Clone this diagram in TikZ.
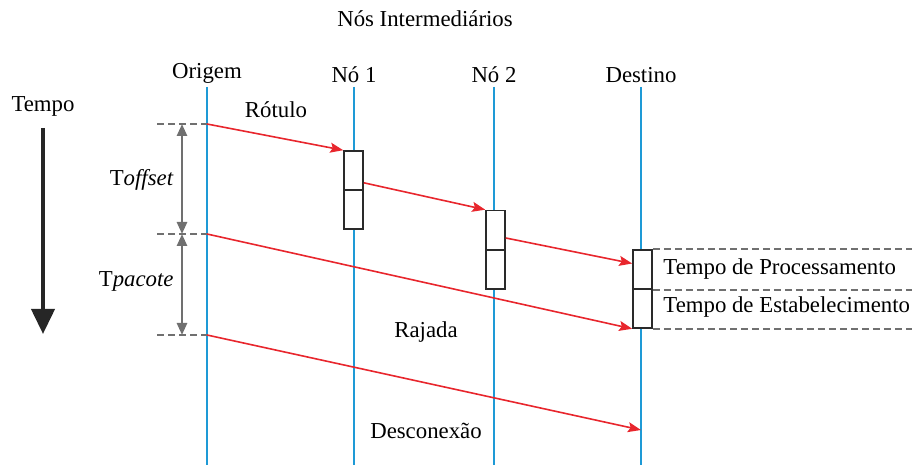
\documentclass[tikz,border=0pt]{standalone}
\usepackage{fontspec}
\setmainfont{Liberation Serif}
\usetikzlibrary{arrows.meta,positioning,calc}
\definecolor{lifeblue}{HTML}{1E9AD6}
\definecolor{msgred}  {HTML}{E8262D}
\definecolor{dimgray} {HTML}{707070}
\definecolor{boxink}  {HTML}{2A2A2A}
\tikzset{
  lifeline/.style ={draw=lifeblue, line width=1pt},
  msgarr/.style   ={-{Stealth[length=6.5pt,width=5pt,inset=1.2pt]}, line width=0.8pt, color=msgred},
  dimarr/.style   ={{Triangle[length=6pt,width=5pt]}-{Triangle[length=6pt,width=5pt]},
                    line width=1.3pt, color=dimgray},
  timearr/.style  ={-{Triangle[length=12.5pt,width=11.5pt]}, line width=2pt, color=black!85},
  guide/.style    ={dash pattern=on 3.5pt off 2pt, line width=0.9pt, color=dimgray},
  procbox/.style  ={draw=boxink, fill=white, line width=0.8pt,
                    minimum width=9.5pt, minimum height=19.5pt, inner sep=0pt},
  lbl/.style      ={inner sep=0pt},
}

\begin{document}
\begin{tikzpicture}[x=0.5pt,y=-0.5pt,font=\fontsize{11.4}{13.5}\selectfont]
  \useasboundingbox (0,0) rectangle (912,465);

  % headings
  \node[lbl,anchor=base] (inter) at (425,27) {Nós Intermediários};
  \node[lbl,anchor=base] (orig) at (207,79) {Origem};
  \node[lbl,anchor=base] (no1)  at (354,83) {Nó 1};
  \node[lbl,anchor=base] (no2)  at (494,83) {Nó 2};
  \node[lbl,anchor=base] (dest) at (641,83) {Destino};

  % lifelines
  \foreach \n/\x in {orig/207, no1/354, no2/494, dest/641} {
    \coordinate (\n-t) at (\x,87);
    \coordinate (\n-b) at (\x,465);
    \draw[lifeline] (\n-t) -- (\n-b);
  }

  % time axis
  \node[lbl,anchor=base] (tempo) at (43,112) {Tempo};
  \coordinate (tempo-t) at (43,128);
  \coordinate (tempo-b) at (43,334);
  \draw[timearr] (tempo-t) -- (tempo-b);

  % instants at the origin
  \coordinate (t0) at (207,124);
  \coordinate (t1) at (207,234);
  \coordinate (t2) at (207,335);
  \foreach \t in {t0,t1,t2}
    \draw[guide] ($(\t)+(-50,0)$) -- (\t);
  \draw[dimarr] ($(t0)+(-25,0)$) -- ($(t1)+(-25,0)$);
  \draw[dimarr] ($(t1)+(-25,0)$) -- ($(t2)+(-25,0)$);
  \node[lbl,anchor=base east] (toff) at (174,186) {T\textit{offset}};
  \node[lbl,anchor=base east] (tpac) at (174,287) {T\textit{pacote}};

  % processing boxes
  \node[procbox] (b1top) at (353.5,170.5) {};
  \node[procbox] (b1bot) at (353.5,209.5) {};
  \node[procbox] (b2top) at (495.5,230)   {};
  \node[procbox] (b2bot) at (495.5,269.5) {};
  \node[procbox] (dtop)  at (642.5,269.5) {};
  \node[procbox] (dbot)  at (642.5,308.5) {};

  % messages
  \draw[msgarr] (t0) -- (b1top.north west);
  \draw[msgarr] ([yshift=4pt]b1top.south east) -- (b2top.north west);
  \draw[msgarr] ([yshift=-4pt]b2top.east) -- ([yshift=3pt]dtop.west);
  \draw[msgarr] (t1) -- (dbot.south west);
  \coordinate (desc-end) at (641,430);
  \draw[msgarr] (t2) -- (desc-end);
  \node[lbl,anchor=base] (rot) at (276,118) {Rótulo};
  \node[lbl,anchor=base] (raj) at (426,337) {Rajada};
  \node[lbl,anchor=base] (dcx) at (426,438) {Desconexão};

  % time slots at the destination
  \draw[guide] (dtop.north east) -- ++(260,0);
  \draw[guide] (dtop.south east) -- ++(260,0);
  \draw[guide] (dbot.south east) -- ++(260,0);
  \node[lbl,anchor=base west] (tproc) at (663,275) {Tempo de Processamento};
  \node[lbl,anchor=base west] (testb) at (663,313) {Tempo de Estabelecimento};
\end{tikzpicture}
\end{document}
